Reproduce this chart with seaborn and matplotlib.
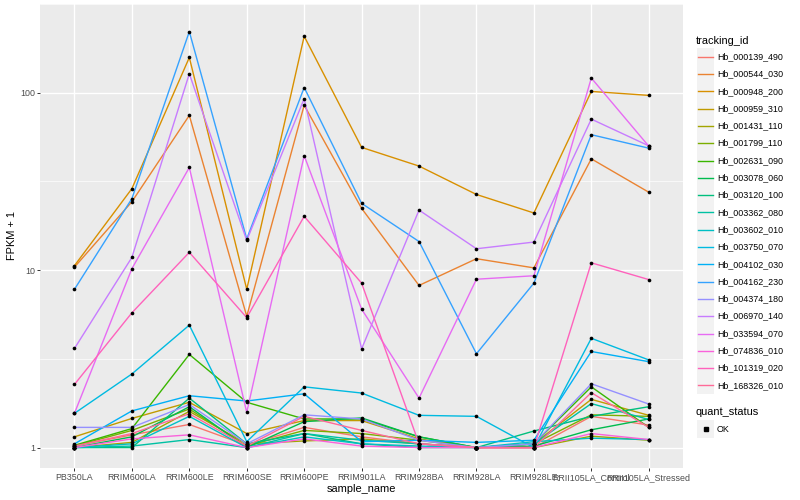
import numpy as np
import pandas as pd
import matplotlib
matplotlib.use("Agg")
import matplotlib.pyplot as plt
from matplotlib.patches import Rectangle
from matplotlib.lines import Line2D
import seaborn as sns

samples = ["PB350LA", "RRIM600LA", "RRIM600LE", "RRIM600SE", "RRIM600PE",
           "RRIM901LA", "RRIM928BA", "RRIM928LA", "RRIM928LE",
           "RRII105LA_Control", "RRII105LA_Stressed"]

tracking_ids = ["Hb_000139_490", "Hb_000544_030", "Hb_000948_200", "Hb_000959_310",
                "Hb_001431_110", "Hb_001799_110", "Hb_002631_090", "Hb_003078_060",
                "Hb_003120_100", "Hb_003362_080", "Hb_003602_010", "Hb_003750_070",
                "Hb_004102_030", "Hb_004162_230", "Hb_004374_180", "Hb_006970_140",
                "Hb_033594_070", "Hb_074836_010", "Hb_101319_020", "Hb_168326_010"]

# FPKM + 1 per sample
hb_000139_490 = [1.02, 1.18, 1.35, 1.03, 1.30, 1.15, 1.05, 1.00, 1.00, 1.50, 1.34]
hb_000544_030 = [10.4, 24.3, 74.5, 5.5, 85.0, 22.3, 8.2, 11.6, 10.3, 42.4, 27.5]
hb_000948_200 = [10.6, 28.8, 158.0, 7.8, 208.0, 49.2, 38.6, 26.7, 21.0, 101.7, 96.6]
hb_000959_310 = [1.15, 1.46, 1.80, 1.20, 1.42, 1.42, 1.12, 1.00, 1.05, 1.87, 1.52]
hb_001431_110 = [1.00, 1.07, 1.60, 1.05, 1.09, 1.12, 1.05, 1.00, 1.00, 1.16, 1.10]
hb_001799_110 = [1.02, 1.25, 1.65, 1.02, 1.25, 1.20, 1.10, 1.00, 1.05, 1.53, 1.50]
hb_002631_090 = [1.03, 1.28, 3.35, 1.80, 1.45, 1.45, 1.15, 1.00, 1.05, 2.20, 1.30]
hb_003078_060 = [1.00, 1.15, 1.70, 1.00, 1.40, 1.47, 1.15, 1.00, 1.02, 1.26, 1.45]
hb_003120_100 = [1.00, 1.00, 1.90, 1.05, 1.20, 1.05, 1.00, 1.00, 1.24, 1.50, 1.70]
hb_003362_080 = [1.00, 1.02, 1.11, 1.00, 1.20, 1.10, 1.05, 1.00, 1.05, 1.77, 1.44]
hb_003602_010 = [1.00, 1.05, 1.50, 1.00, 1.15, 1.05, 1.02, 1.00, 1.08, 1.13, 1.11]
hb_003750_070 = [1.56, 2.60, 4.90, 1.08, 2.20, 2.03, 1.52, 1.50, 1.00, 4.13, 3.12]
hb_004102_030 = [1.05, 1.61, 1.96, 1.83, 2.01, 1.08, 1.10, 1.07, 1.10, 3.48, 3.05]
hb_004162_230 = [7.8, 25.3, 221.0, 15.0, 107.0, 23.8, 14.5, 3.38, 8.45, 58.0, 48.7]
hb_004374_180 = [1.30, 1.30, 1.75, 1.05, 1.53, 1.45, 1.10, 1.00, 1.05, 2.29, 1.76]
hb_006970_140 = [3.62, 11.8, 128.0, 14.7, 92.6, 3.6, 21.8, 13.2, 14.4, 71.0, 50.2]
hb_033594_070 = [1.56, 10.2, 37.9, 1.58, 44.2, 6.03, 1.90, 8.89, 9.30, 121.0, 50.0]
hb_074836_010 = [1.00, 1.12, 1.18, 1.00, 1.12, 1.02, 1.00, 1.00, 1.00, 1.20, 1.11]
hb_101319_020 = [2.27, 5.75, 12.6, 5.4, 20.1, 8.45, 1.05, 1.00, 1.00, 11.0, 8.85]
hb_168326_010 = [1.02, 1.20, 1.55, 1.02, 1.50, 1.25, 1.05, 1.00, 1.00, 2.04, 1.30]

series = [hb_000139_490, hb_000544_030, hb_000948_200, hb_000959_310,
          hb_001431_110, hb_001799_110, hb_002631_090, hb_003078_060,
          hb_003120_100, hb_003362_080, hb_003602_010, hb_003750_070,
          hb_004102_030, hb_004162_230, hb_004374_180, hb_006970_140,
          hb_033594_070, hb_074836_010, hb_101319_020, hb_168326_010]


def hue_pal(n, c=100.0, l=65.0):
    # ggplot2 default discrete palette (polar Luv -> sRGB)
    hues = np.linspace(15, 375, n + 1)[:-1]
    xn, yn, zn = 0.95047, 1.0, 1.08883
    un = 4 * xn / (xn + 15 * yn + 3 * zn)
    vn = 9 * yn / (xn + 15 * yn + 3 * zn)
    m = np.array([[3.240479, -1.537150, -0.498535],
                  [-0.969256, 1.875992, 0.041556],
                  [0.055648, -0.204043, 1.057311]])
    out = []
    for h in hues:
        u = c * np.cos(np.radians(h))
        v = c * np.sin(np.radians(h))
        y = ((l + 16) / 116) ** 3
        up = u / (13 * l) + un
        vp = v / (13 * l) + vn
        x = y * 9 * up / (4 * vp)
        z = y * (12 - 3 * up - 20 * vp) / (4 * vp)
        rgb = m @ np.array([x, y, z])
        rgb = np.where(rgb <= 0.0031308, 12.92 * rgb, 1.055 * np.abs(rgb) ** (1 / 2.4) - 0.055)
        out.append(tuple(np.clip(rgb, 0, 1)))
    return out


colors = hue_pal(len(tracking_ids))

rows = []
for tid, vals in zip(tracking_ids, series):
    for s, v in zip(samples, vals):
        rows.append({"tracking_id": tid, "sample_name": s, "fpkm": v, "quant_status": "OK"})
df = pd.DataFrame(rows)

sns.set_style({"axes.facecolor": "#EBEBEB", "axes.edgecolor": "#EBEBEB"})
plt.rcParams["font.family"] = ["Liberation Sans", "DejaVu Sans"]

fig = plt.figure(figsize=(8, 5), dpi=100)
ax = fig.add_axes([0.05, 0.064, 0.804, 0.928])

sns.lineplot(data=df, x="sample_name", y="fpkm", hue="tracking_id",
             hue_order=tracking_ids, palette=colors, sort=False,
             errorbar=None, legend=False, linewidth=1.0, ax=ax)
sns.scatterplot(data=df, x="sample_name", y="fpkm", color="black", s=7,
                marker="o", linewidth=0, legend=False, zorder=3, ax=ax)

ax.set_yscale("log")
ax.set_ylim(10 ** -0.115, 10 ** 2.47)
ax.set_xlim(-0.6, len(samples) - 0.4)
ax.set_yticks([1, 10, 100])
ax.set_yticklabels(["1", "10", "100"])
ax.set_yticks([10 ** 0.5, 10 ** 1.5, 10 ** 2.5], minor=True)
ax.yaxis.set_minor_formatter(matplotlib.ticker.NullFormatter())
ax.set_xticks(range(len(samples)))
ax.set_xticklabels(samples)

ax.grid(which="major", color="white", linewidth=1.0)
ax.grid(which="minor", axis="y", color="white", linewidth=0.5)
ax.set_axisbelow(True)
for sp in ax.spines.values():
    sp.set_visible(False)
ax.tick_params(which="major", direction="out", length=2.0, width=0.7,
               color="#333333", labelcolor="#4D4D4D", labelsize=6.4, pad=1.6)
ax.tick_params(which="minor", length=0)

ax.set_xlabel("sample_name", fontsize=7.9, labelpad=1.5)
ax.set_ylabel("FPKM + 1", fontsize=7.9, labelpad=2)


# legend drawn in figure pixels (y measured from top)
def fx(px):
    return px / 800


def fy(py):
    return 1 - py / 500


key_w = 17.3
fig.text(fx(696), fy(40.5), "tracking_id", fontsize=7.9, va="center", ha="left")
for i, (tid, col) in enumerate(zip(tracking_ids, colors)):
    cy = 56.7 + key_w * i
    fig.add_artist(Rectangle((fx(697), fy(cy + key_w / 2)), key_w / 800, key_w / 500,
                             transform=fig.transFigure, facecolor="#F2F2F2",
                             edgecolor="none"))
    fig.add_artist(Line2D([fx(698), fx(697 + key_w - 1)], [fy(cy), fy(cy)],
                          transform=fig.transFigure, color=col, linewidth=1.0))
    fig.text(fx(717), fy(cy), tid, fontsize=6.4, va="center", ha="left")

fig.text(fx(696), fy(412), "quant_status", fontsize=7.9, va="center", ha="left")
fig.add_artist(Rectangle((fx(697), fy(429 + key_w / 2)), key_w / 800, key_w / 500,
                         transform=fig.transFigure, facecolor="#F2F2F2", edgecolor="none"))
fig.add_artist(Line2D([fx(697 + key_w / 2)], [fy(429)], transform=fig.transFigure,
                      marker="s", markersize=2.2, color="black", linestyle="none"))
fig.text(fx(717), fy(429), "OK", fontsize=6.4, va="center", ha="left")

fig.savefig("out.png", dpi=100)
plt.close(fig)
